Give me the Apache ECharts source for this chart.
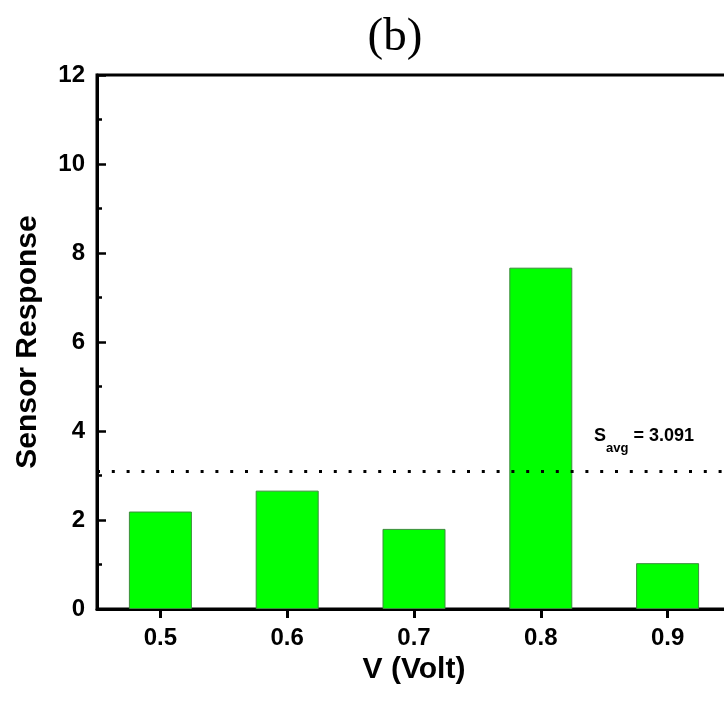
<!DOCTYPE html>
<html>
<head>
<meta charset="utf-8">
<script src="https://cdn.jsdelivr.net/npm/echarts@6/dist/echarts.min.js"></script>
<style>
  html, body { margin: 0; padding: 0; background: #fff; }
  #chart { width: 724px; height: 708px; }
</style>
</head>
<body>
<div id="chart"></div>
<script>
const categories = ['0.5', '0.6', '0.7', '0.8', '0.9'];
const sensorResponse = [2.19, 2.66, 1.80, 7.67, 1.03];
const averageValue = 3.091;
const yTicks = [0, 2, 4, 6, 8, 10, 12];

const FONT = '"Liberation Sans", Arial, sans-serif';
const chart = echarts.init(document.getElementById('chart'), null, { renderer: 'canvas' });

const option = {
  animation: false,
  backgroundColor: '#ffffff',
  grid: {
    left: 97, top: 75, width: 634, bottom: 99,
    containLabel: false,
    outerBoundsMode: 'none',
    show: true, borderColor: '#000', borderWidth: 3, backgroundColor: 'transparent'
  },
  xAxis: {
    type: 'category',
    data: categories,
    boundaryGap: true,
    name: 'V (Volt)',
    nameLocation: 'middle',
    nameGap: 40,
    nameTextStyle: { fontFamily: FONT, fontWeight: 'bold', fontSize: 30, color: '#000' },
    axisLine: { lineStyle: { color: '#000', width: 3 } },
    axisTick: { show: true, alignWithLabel: true, inside: false, length: 9, lineStyle: { color: '#000', width: 3 } },
    axisLabel: { fontFamily: FONT, fontWeight: 'bold', fontSize: 24, color: '#000', margin: 17 },
    splitLine: { show: false }
  },
  yAxis: {
    type: 'value',
    min: yTicks[0],
    max: yTicks[yTicks.length - 1],
    interval: 2,
    name: 'Sensor Response',
    nameLocation: 'middle',
    nameGap: 54,
    nameRotate: 90,
    nameTextStyle: { fontFamily: FONT, fontWeight: 'bold', fontSize: 30, color: '#000' },
    axisLine: { show: true, lineStyle: { color: '#000', width: 3 } },
    axisTick: { show: true, inside: true, length: 9, lineStyle: { color: '#000', width: 2.5 } },
    minorTick: { show: true, splitNumber: 2, length: 5, lineStyle: { color: '#000', width: 2.5 } },
    axisLabel: { fontFamily: FONT, fontWeight: 'bold', fontSize: 24, color: '#000', margin: 12 },
    splitLine: { show: false }
  },
  series: [{
    type: 'bar',
    data: sensorResponse,
    barWidth: 63,
    itemStyle: { color: '#00ff00', borderColor: '#3c8c3c', borderWidth: 1 },
    markLine: {
      silent: true,
      symbol: ['none', 'none'],
      label: { show: false },
      lineStyle: { color: '#000', width: 3, type: [3, 11.8] },
      data: [{ yAxis: averageValue }]
    }
  }]
};
chart.setOption(option);

const yPix = chart.convertToPixel({ yAxisIndex: 0 }, averageValue);
chart.setOption({
  graphic: [
    {
      type: 'text',
      style: {
        text: '(b)',
        x: 395, y: 38,
        font: 'normal 47px "Liberation Serif", "Times New Roman", serif',
        fill: '#000',
        textAlign: 'center',
        textVerticalAlign: 'middle'
      }
    },
    {
      type: 'text',
      style: {
        x: 594,
        y: yPix - 44,
        text: '{s|S}{sub|avg}{s| = ' + averageValue.toFixed(3) + '}',
        textVerticalAlign: 'top',
        rich: {
          s: { fontFamily: FONT, fontWeight: 'bold', fontSize: 18, lineHeight: 22, verticalAlign: 'top', fill: '#000', color: '#000' },
          sub: { fontFamily: FONT, fontWeight: 'bold', fontSize: 13, lineHeight: 16, verticalAlign: 'top', padding: [14, 0, 0, 0], fill: '#000', color: '#000' }
        }
      }
    }
  ]
});
</script>
</body>
</html>
